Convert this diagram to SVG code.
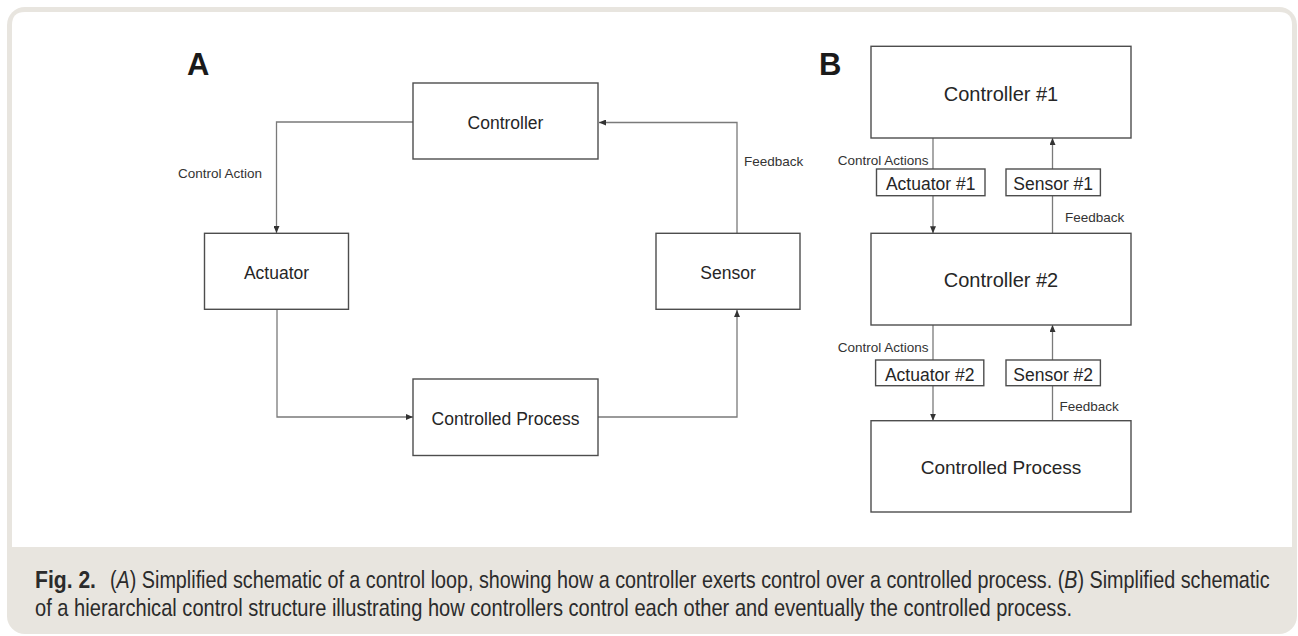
<svg xmlns="http://www.w3.org/2000/svg" width="1298" height="636" viewBox="0 0 1298 636">
  <style>
    .box { fill: #ffffff; stroke: #4d4d4d; stroke-width: 1.4; }
    .conn { fill: none; stroke: #7a7a7a; stroke-width: 1.3; }
    .lbl { font-family: "Liberation Sans", Arial, sans-serif; fill: #262626; text-anchor: middle; }
    .small { font-family: "Liberation Sans", Arial, sans-serif; fill: #333333; font-size: 13.5px; }
    .panel { font-family: "Liberation Sans", Arial, sans-serif; font-weight: bold; font-size: 31px; fill: #1a1a1a; }
    .cap { font-family: "Liberation Sans", Arial, sans-serif; font-size: 24px; fill: #2b2b2b; }
    .it { font-style: italic; }
  </style>
  <defs>
    <marker id="arr" markerWidth="7" markerHeight="6" refX="7" refY="3" orient="auto" markerUnits="userSpaceOnUse">
      <path d="M0,0 L7,3 L0,6 Z" fill="#333333"/>
    </marker>
  </defs>

  <!-- frame -->
  <rect x="7" y="7" width="1290" height="627" rx="18" ry="18" fill="#e8e5df"/>
  <path d="M12,547 V25 Q12,12 25,12 H1279 Q1292,12 1292,25 V547 Z" fill="#ffffff"/>

  <!-- panel labels -->
  <text class="panel" x="187" y="75">A</text>
  <text class="panel" x="819" y="75">B</text>

  <!-- connectors -->
  <g id="connectors">
    <path class="conn" d="M413,122 H276.5 V233" marker-end="url(#arr)"/>
    <path class="conn" d="M277,310 V417 H413" marker-end="url(#arr)"/>
    <path class="conn" d="M598,417 H737 V310" marker-end="url(#arr)"/>
    <path class="conn" d="M737,233 V122.5 H599" marker-end="url(#arr)"/>

    <path class="conn" d="M933,138 V169"/>
    <path class="conn" d="M933,196 V233.3" marker-end="url(#arr)"/>
    <path class="conn" d="M1052.5,233.3 V196"/>
    <path class="conn" d="M1052.5,169 V138" marker-end="url(#arr)"/>

    <path class="conn" d="M933,325 V360"/>
    <path class="conn" d="M933,386 V420.7" marker-end="url(#arr)"/>
    <path class="conn" d="M1052.5,420.7 V386"/>
    <path class="conn" d="M1052.5,360 V325" marker-end="url(#arr)"/>

    <text class="small" x="262" y="178" text-anchor="end">Control Action</text>
    <text class="small" x="744" y="166">Feedback</text>
    <text class="small" x="928.5" y="165" text-anchor="end">Control Actions</text>
    <text class="small" x="1065" y="222">Feedback</text>
    <text class="small" x="928.5" y="352" text-anchor="end">Control Actions</text>
    <text class="small" x="1059.5" y="411">Feedback</text>
  </g>

  <!-- Panel A nodes -->
  <g id="a-controller">
    <rect class="box" x="413" y="83" width="185" height="76"/>
    <text class="lbl" x="505.5" y="129" font-size="17.5">Controller</text>
  </g>
  <g id="a-actuator">
    <rect class="box" x="204.5" y="233.3" width="144" height="76"/>
    <text class="lbl" x="276.5" y="279" font-size="17.5">Actuator</text>
  </g>
  <g id="a-sensor">
    <rect class="box" x="656" y="233.3" width="144" height="76"/>
    <text class="lbl" x="728" y="279" font-size="17.5">Sensor</text>
  </g>
  <g id="a-process">
    <rect class="box" x="413" y="379" width="185" height="76.5"/>
    <text class="lbl" x="505.5" y="425" font-size="17.5">Controlled Process</text>
  </g>

  <!-- Panel B nodes -->
  <g id="b-controller1">
    <rect class="box" x="871" y="46.3" width="260" height="91.7"/>
    <text class="lbl" x="1001" y="101" font-size="20">Controller #1</text>
  </g>
  <g id="b-actuator1">
    <rect class="box" x="876.5" y="169" width="108.5" height="26.7"/>
    <text class="lbl" x="930.7" y="190" font-size="17.5">Actuator #1</text>
  </g>
  <g id="b-sensor1">
    <rect class="box" x="1006" y="169" width="94.4" height="26.7"/>
    <text class="lbl" x="1053.2" y="190" font-size="17.5">Sensor #1</text>
  </g>
  <g id="b-controller2">
    <rect class="box" x="871" y="233.3" width="260" height="91.7"/>
    <text class="lbl" x="1001" y="287" font-size="20">Controller #2</text>
  </g>
  <g id="b-actuator2">
    <rect class="box" x="875.6" y="360" width="108.2" height="25.7"/>
    <text class="lbl" x="929.7" y="380.7" font-size="17.5">Actuator #2</text>
  </g>
  <g id="b-sensor2">
    <rect class="box" x="1006" y="360" width="94.4" height="25.7"/>
    <text class="lbl" x="1053.2" y="380.7" font-size="17.5">Sensor #2</text>
  </g>
  <g id="b-process">
    <rect class="box" x="871" y="420.7" width="260" height="91.3"/>
    <text class="lbl" x="1001" y="474" font-size="19">Controlled Process</text>
  </g>

  <!-- caption -->
  <g id="caption">
    <text class="cap" transform="translate(35,588) scale(0.88,1)" font-weight="bold">Fig. 2.</text>
    <text class="cap" transform="translate(110,588) scale(0.824,1)">(<tspan class="it">A</tspan>) Simplified schematic of a control loop, showing how a controller exerts control over a controlled process. (<tspan class="it">B</tspan>) Simplified schematic</text>
    <text class="cap" transform="translate(35,616) scale(0.837,1)">of a hierarchical control structure illustrating how controllers control each other and eventually the controlled process.</text>
  </g>
</svg>
